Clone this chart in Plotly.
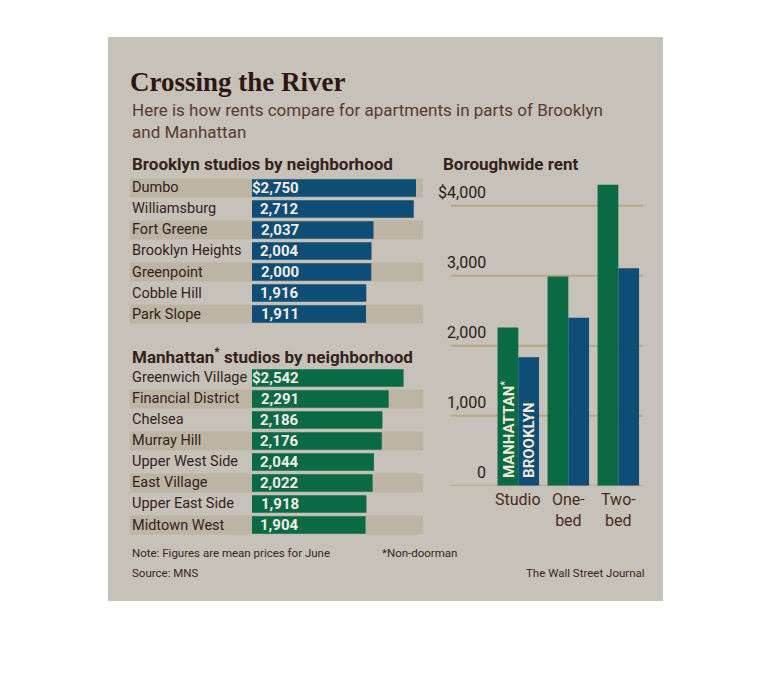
import plotly.graph_objects as go

# ---------------- data ----------------
brooklyn_hoods = ["Dumbo", "Williamsburg", "Fort Greene", "Brooklyn Heights",
                  "Greenpoint", "Cobble Hill", "Park Slope"]
brooklyn_rent = [2750, 2712, 2037, 2004, 2000, 1916, 1911]

manhattan_hoods = ["Greenwich Village", "Financial District", "Chelsea", "Murray Hill",
                   "Upper West Side", "East Village", "Upper East Side", "Midtown West"]
manhattan_rent = [2542, 2291, 2186, 2176, 2044, 2022, 1918, 1904]

apt_types = ["Studio", "One-bed", "Two-bed"]
apt_labels = ["Studio", "One-<br>bed", "Two-<br>bed"]
boro_manhattan = [2260, 2990, 4300]
boro_brooklyn = [1835, 2400, 3105]

y_ticks = [0, 1000, 2000, 3000, 4000]
y_tick_labels = ["0", "1,000", "2,000", "3,000", "$4,000"]

# ---------------- style ----------------
W, H = 770, 696
OFF = 8  # page body margin
def px(x): return (x - OFF) / W
def py(y): return 1 - (y - OFF) / H

PANEL = "#c6c2b9"
STRIPE = "#bcb5a3"
BLUE = "#0e4d76"
GREEN = "#0b6a46"
GRID = "#b9a97c"
TXT = "#35221c"
SANS = "Roboto, Open Sans, sans-serif"

fig = go.Figure()

fig.add_trace(go.Bar(y=brooklyn_hoods, x=brooklyn_rent, orientation="h",
                     marker=dict(color=BLUE, line=dict(width=0)),
                     xaxis="x", yaxis="y", hoverinfo="skip"))
fig.add_trace(go.Bar(y=manhattan_hoods, x=manhattan_rent, orientation="h",
                     marker=dict(color=GREEN, line=dict(width=0)),
                     xaxis="x2", yaxis="y2", hoverinfo="skip"))
fig.add_trace(go.Bar(x=apt_types, y=boro_manhattan, marker=dict(color=GREEN, line=dict(width=0)),
                     xaxis="x3", yaxis="y3", hoverinfo="skip"))
fig.add_trace(go.Bar(x=apt_types, y=boro_brooklyn, marker=dict(color=BLUE, line=dict(width=0)),
                     xaxis="x3", yaxis="y3", hoverinfo="skip"))

scale = 0.05964  # px per dollar
hidden = dict(showgrid=False, zeroline=False, showticklabels=False, showline=False, ticks="")

shapes = [dict(type="rect", xref="paper", yref="paper", x0=px(108), x1=px(663),
               y0=py(601), y1=py(37), fillcolor=PANEL, line=dict(width=0), layer="below")]
annotations = []

def ann(text, x, y, size, color=TXT, bold=False, xanchor="left", yanchor="middle",
        family=SANS, **kw):
    if bold:
        text = "<b>" + text + "</b>"
    d = dict(text=text, x=x, y=y, showarrow=False, xanchor=xanchor, yanchor=yanchor,
             font=dict(size=size, color=color, family=family), align=xanchor if xanchor != "middle" else "center")
    d.setdefault("xref", "paper")
    d.setdefault("yref", "paper")
    d.update(kw)
    annotations.append(d)

# Title / subtitle
ann("Crossing the River", px(128), py(82), 27, color="#2e1712", bold=True,
    family="Liberation Serif, DejaVu Serif, serif")
ann("Here is how rents compare for apartments in parts of Brooklyn<br>and Manhattan",
    px(130), py(121), 17, color="#5a3a30")

# section headers
ann("Brooklyn studios by neighborhood", px(130), py(164), 17, bold=True)
ann("Manhattan<sup>*</sup> studios by neighborhood", px(130), py(356), 17, bold=True)
ann("Boroughwide rent", px(441), py(164), 17, bold=True)

def hbar_block(names, vals, yaxis_name, striped_even):
    for i, (n, v) in enumerate(zip(names, vals)):
        if (i % 2 == 0) == striped_even:
            shapes.append(dict(type="rect", xref="paper", yref=yaxis_name,
                               x0=px(130), x1=px(423), y0=i - 0.45, y1=i + 0.45,
                               fillcolor=STRIPE, line=dict(width=0), layer="below"))
        ann(n, px(130), n, 14.5, yref=yaxis_name)
        lab = ("$" if i == 0 else "") + f"{v:,}"
        ann(lab, px(301), n, 15, color="#f4ece6", bold=True, xanchor="right", yref=yaxis_name)

hbar_block(brooklyn_hoods, brooklyn_rent, "y", True)
hbar_block(manhattan_hoods, manhattan_rent, "y2", False)

for t, lab in zip(y_ticks, y_tick_labels):
    shapes.append(dict(type="line", xref="paper", yref="y3", x0=px(451), x1=px(643),
                       y0=t, y1=t, line=dict(color=GRID, width=2), layer="below"))
    ann(lab, px(488), t, 16, color="#2a1c18", xanchor="right", yanchor="bottom",
        yref="y3", yshift=2)

for c, lab in zip(apt_types, apt_labels):
    ann(lab, c, 0, 16, color="#4a2a22", xanchor="center", yanchor="top",
        xref="x3", yref="y3", yshift=-2)

ann("MANHATTAN<sup>*</sup>", apt_types[0], 0, 15, color="#f1ead2", bold=True,
    xanchor="center", yanchor="bottom", xref="x3", yref="y3", xshift=-10.4,
    yshift=6, textangle=-90)
ann("BROOKLYN", apt_types[0], 0, 15, color="#f1ead2", bold=True,
    xanchor="center", yanchor="bottom", xref="x3", yref="y3", xshift=10.4,
    yshift=6, textangle=-90)

# footer
ann("Note: Figures are mean prices for June", px(130), py(553), 11.5, color="#3a2520")
ann("*Non-doorman", px(380), py(553), 11.5, color="#3a2520")
ann("Source: MNS", px(130), py(573), 11.5, color="#3a2520")
ann("The Wall Street Journal", px(647), py(573), 11.5, color="#3a2520", xanchor="right")

fig.update_layout(
    width=W, height=H, margin=dict(l=0, r=0, t=0, b=0),
    paper_bgcolor="white", plot_bgcolor="rgba(0,0,0,0)",
    showlegend=False, bargap=0.17, barmode="group",
    xaxis=dict(domain=[px(252), px(423)], range=[0, 171 / scale], anchor="y", **hidden),
    yaxis=dict(domain=[py(324.5), py(177.5)], type="category",
               categoryarray=brooklyn_hoods, range=[len(brooklyn_hoods) - 0.5, -0.5],
               anchor="x", **hidden),
    xaxis2=dict(domain=[px(252), px(423)], range=[0, 171 / scale], anchor="y2", **hidden),
    yaxis2=dict(domain=[py(535.5), py(367.5)], type="category",
                categoryarray=manhattan_hoods, range=[len(manhattan_hoods) - 0.5, -0.5],
                anchor="x2", **hidden),
    xaxis3=dict(domain=[px(493.3), px(643.3)], type="category", anchor="y3", **hidden),
    yaxis3=dict(domain=[py(485.7), py(170)], range=[0, 315.7 / 0.07], anchor="x3", **hidden),
    shapes=shapes, annotations=annotations,
)

fig.write_html("out.html")
